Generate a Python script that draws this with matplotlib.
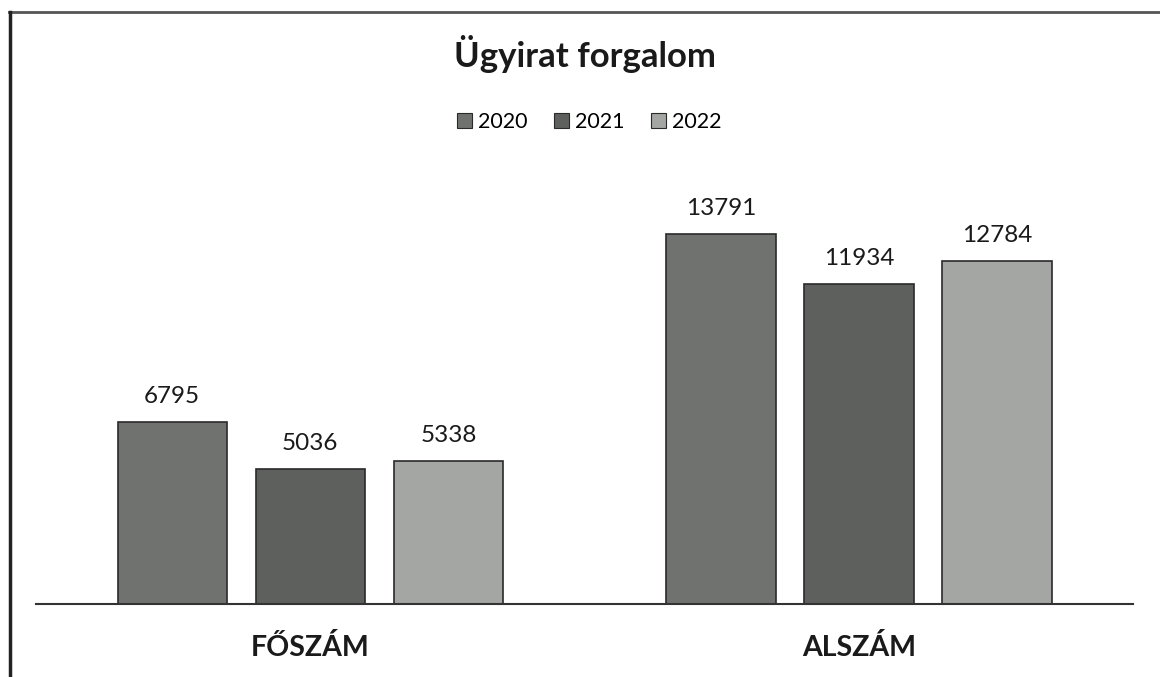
import numpy as np
import matplotlib
matplotlib.use("Agg")
import matplotlib.pyplot as plt
from matplotlib.patches import Patch
from matplotlib.lines import Line2D

# chart data
categories = ["FŐSZÁM", "ALSZÁM"]
years = ["2020", "2021", "2022"]
values_2020 = [6795, 13791]
values_2021 = [5036, 11934]
values_2022 = [5338, 12784]

series = [values_2020, values_2021, values_2022]
colors = ["#707270", "#5e605e", "#a4a6a4"]

plt.rcParams['font.family'] = ['Lato', 'DejaVu Sans']

fig = plt.figure(figsize=(11.6, 6.77), dpi=100)
ax = fig.add_axes([0.031, 0.108, 0.946, 0.634])

x = np.arange(len(categories))
width = 0.199
step = 0.2516

for i, vals in enumerate(series):
    pos = x + (i - 1) * step
    bars = ax.bar(pos, vals, width, color=colors[i], edgecolor="#2a2a2a", linewidth=1.2, zorder=2)
    for b, v in zip(bars, vals):
        ax.text(b.get_x() + b.get_width() / 2, v + 550, str(v), ha="center", va="bottom",
                fontsize=17.5, color="#1a1a1a")

ax.set_xlim(-0.5, 1.5)
ax.set_ylim(0, 16000)
ax.set_yticks([])
ax.set_xticks(x)
ax.set_xticklabels(categories, fontsize=20.5, fontweight="bold", color="#1a1a1a")
ax.tick_params(axis="x", length=0, pad=22)
for s in ["top", "right", "left"]:
    ax.spines[s].set_visible(False)
ax.spines["bottom"].set_color("#333333")
ax.spines["bottom"].set_linewidth(1.5)

fig.text(0.504, 0.92, "Ügyirat forgalom", ha="center", va="center", fontsize=25,
         fontweight="bold", color="#1a1a1a")

handles = [Patch(facecolor=c, edgecolor="#2a2a2a", linewidth=0.8) for c in colors]
fig.legend(handles, years, loc="center", bbox_to_anchor=(0.508, 0.82), ncol=3, frameon=False,
           fontsize=15.5, handlelength=0.7, handleheight=0.7, handletextpad=0.3, columnspacing=1.2)

# scanned frame: top and left edge
fig.add_artist(Line2D([0.008, 1.0], [0.983, 0.983], color="#555555", linewidth=2, transform=fig.transFigure))
fig.add_artist(Line2D([0.0085, 0.0085], [0.0, 0.983], color="#222222", linewidth=2.5, transform=fig.transFigure))

fig.savefig("out.png", dpi=100, facecolor="white")
